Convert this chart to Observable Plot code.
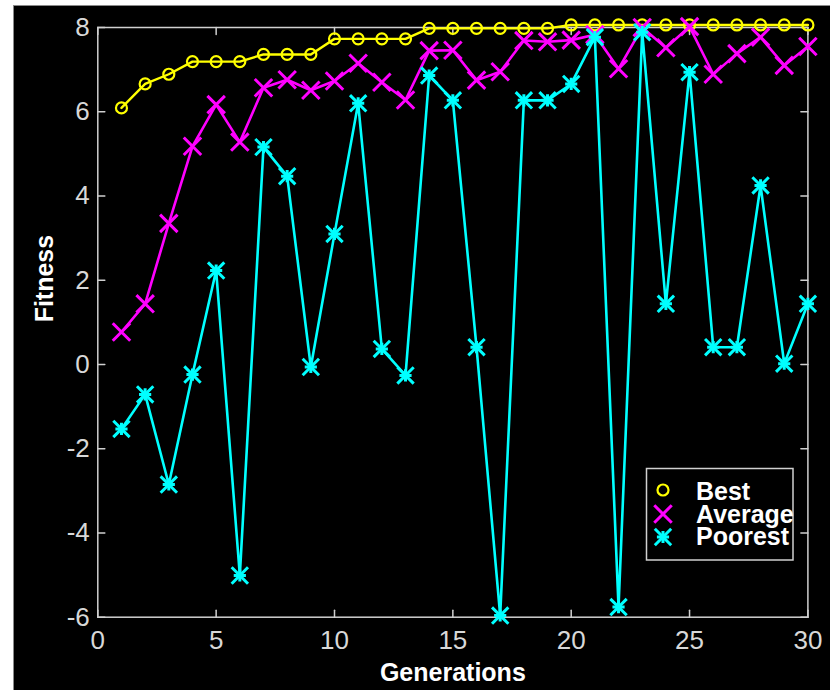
<!DOCTYPE html>
<html>
<head>
<meta charset="utf-8">
<script src="https://cdn.jsdelivr.net/npm/d3@7"></script>
<script src="https://cdn.jsdelivr.net/npm/@observablehq/plot@0.6"></script>
<style>
html, body { margin: 0; padding: 0; background: #fff; }
#wrap { position: relative; width: 830px; height: 690px; overflow: hidden; }
#panel { position: absolute; left: 13px; top: 5px; width: 840px; height: 700px; background: #000; border: 1px solid #8a8a8a; }
#chart { position: absolute; left: 0; top: 0; }
#legend { position: absolute; left: 0; top: 0; }
</style>
</head>
<body>
<div id="wrap">
  <div id="panel"></div>
  <div id="chart"></div>
  <div id="legend"></div>
</div>
<script>
// ---- data ----
const generations = [1,2,3,4,5,6,7,8,9,10,11,12,13,14,15,16,17,18,19,20,21,22,23,24,25,26,27,28,29,30];
const best = [6.09,6.66,6.89,7.19,7.19,7.19,7.36,7.36,7.36,7.73,7.73,7.73,7.73,7.98,7.98,7.98,7.98,7.98,7.98,8.06,8.06,8.06,8.06,8.06,8.06,8.06,8.06,8.06,8.06,8.06];
const average = [0.77,1.44,3.35,5.18,6.17,5.28,6.57,6.76,6.51,6.73,7.15,6.70,6.28,7.45,7.46,6.75,6.95,7.69,7.66,7.70,7.83,7.02,8.00,7.52,8.02,6.89,7.38,7.77,7.10,7.55];
const poorest = [-1.53,-0.71,-2.85,-0.24,2.23,-5.01,5.16,4.47,-0.06,3.10,6.20,0.37,-0.26,6.86,6.27,0.41,-5.96,6.27,6.27,6.66,7.77,-5.76,7.89,1.44,6.94,0.41,0.41,4.25,0.02,1.44];
const xTicks = [0,5,10,15,20,25,30];
const yTicks = [-6,-4,-2,0,2,4,6,8];
const xDomain = [0,30];
const yDomain = [-6,8];
const xLabel = "Generations";
const yLabel = "Fitness";
const seriesNames = ["Best","Average","Poorest"];
const seriesColors = ["#ffff00","#ff00ff","#00ffff"];

const axisColor = "#d0d0d0";
const font = "'Liberation Sans', Arial, Helvetica, sans-serif";
const tickShape = { draw(ctx, l) { ctx.moveTo(0, 0); ctx.lineTo(0, -l); } };

const chart = Plot.plot({
  width: 830,
  height: 690,
  marginLeft: 97.3,
  marginRight: 22.6,
  marginTop: 27,
  marginBottom: 73.3,
  style: { background: "transparent", color: axisColor, fontFamily: font },
  x: { domain: xDomain },
  y: { domain: yDomain },
  marks: [
    Plot.frame({ stroke: axisColor, strokeWidth: 1.5 }),
    // inward ticks on all four sides
    Plot.vector(xTicks, { x: d => d, y: yDomain[0], length: 7, rotate: 0, anchor: "start", shape: tickShape, stroke: axisColor, strokeWidth: 1.5 }),
    Plot.vector(xTicks, { x: d => d, y: yDomain[1], length: 7, rotate: 180, anchor: "start", shape: tickShape, stroke: axisColor, strokeWidth: 1.5 }),
    Plot.vector(yTicks, { x: xDomain[0], y: d => d, length: 7, rotate: 90, anchor: "start", shape: tickShape, stroke: axisColor, strokeWidth: 1.5 }),
    Plot.vector(yTicks, { x: xDomain[1], y: d => d, length: 7, rotate: -90, anchor: "start", shape: tickShape, stroke: axisColor, strokeWidth: 1.5 }),
    Plot.axisX(xTicks, { tickSize: 0, tickPadding: 13, tickFormat: d => String(d), fontSize: 26, fill: "#d8d8d8", label: null }),
    Plot.axisY(yTicks, { tickSize: 0, tickPadding: 8, tickFormat: d => String(d), fontSize: 26, fill: "#d8d8d8", label: null }),
    Plot.text([xLabel], { text: d => d, frameAnchor: "bottom", dy: 56, lineAnchor: "middle", fontSize: 25, fontWeight: "bold", fill: "#ffffff" }),
    Plot.text([yLabel], { text: d => d, frameAnchor: "left", dx: -53, rotate: -90, lineAnchor: "middle", fontSize: 25, fontWeight: "bold", fill: "#ffffff" }),
    // Best
    Plot.line(generations, { x: generations, y: best, stroke: seriesColors[0], strokeWidth: 2.4 }),
    Plot.dot(generations, { x: generations, y: best, symbol: "circle", r: 5.5, stroke: seriesColors[0], strokeWidth: 2.2, fill: "none" }),
    // Average
    Plot.line(generations, { x: generations, y: average, stroke: seriesColors[1], strokeWidth: 2.6 }),
    Plot.dot(generations, { x: generations, y: average, symbol: "times", r: 8, stroke: seriesColors[1], strokeWidth: 3 }),
    // Poorest
    Plot.line(generations, { x: generations, y: poorest, stroke: seriesColors[2], strokeWidth: 2.6 }),
    Plot.dot(generations, { x: generations, y: poorest, symbol: "plus", r: 4, stroke: seriesColors[2], strokeWidth: 3 }),
    Plot.dot(generations, { x: generations, y: poorest, symbol: "times", r: 7.5, stroke: seriesColors[2], strokeWidth: 3 })
  ]
});
document.getElementById("chart").appendChild(chart);

// ---- legend (overlay) ----
const lg = d3.select("#legend").append("svg")
  .attr("width", 830).attr("height", 690)
  .style("font-family", font);
lg.append("rect").attr("x", 646.5).attr("y", 468.5).attr("width", 146.5).attr("height", 91.5)
  .attr("fill", "#000").attr("stroke", "#d0d0d0").attr("stroke-width", 1.5);
const rowsY = [490, 514, 537];
const baselines = [500, 523, 545];
const symArea = r => Math.PI * r * r;
seriesNames.forEach((name, i) => {
  const g = lg.append("g").attr("transform", `translate(663,${rowsY[i]})`);
  if (i === 0) {
    g.append("circle").attr("r", 5.5).attr("fill", "none").attr("stroke", seriesColors[0]).attr("stroke-width", 2.2);
  } else if (i === 1) {
    g.append("path").attr("d", d3.symbol(d3.symbolTimes, symArea(8))()).attr("fill", "none").attr("stroke", seriesColors[1]).attr("stroke-width", 3);
  } else {
    g.append("path").attr("d", d3.symbol(d3.symbolPlus, symArea(4))()).attr("fill", "none").attr("stroke", seriesColors[2]).attr("stroke-width", 3);
    g.append("path").attr("d", d3.symbol(d3.symbolTimes, symArea(7.5))()).attr("fill", "none").attr("stroke", seriesColors[2]).attr("stroke-width", 3);
  }
  lg.append("text").attr("x", 696).attr("y", baselines[i]).attr("fill", "#ffffff")
    .attr("font-size", 25).attr("font-weight", "bold").text(name);
});
</script>
</body>
</html>
